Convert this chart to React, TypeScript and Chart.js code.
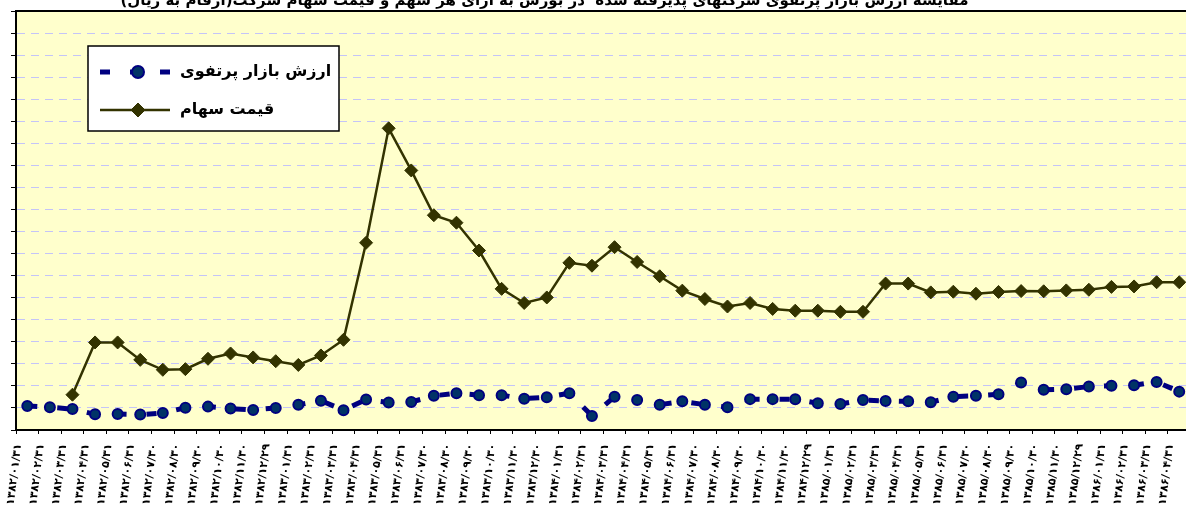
import React, { useEffect, useRef } from 'react';
import { Chart, registerables } from 'chart.js';

Chart.register(...registerables);

const TITLE = 'مقایسه ارزش بازار پرتفوی شرکتهای پذیرفته شده  در بورس به ازای هر سهم و قیمت سهام شرکت(ارقام به ریال)';
const SERIES_PORTFOLIO = 'ارزش بازار پرتفوی';
const SERIES_PRICE = 'قیمت سهام';

const dateLabels = [
  '۱۳۸۲/۰۱/۳۱', '۱۳۸۲/۰۲/۳۱', '۱۳۸۲/۰۳/۳۱', '۱۳۸۲/۰۴/۳۱', '۱۳۸۲/۰۵/۳۱', '۱۳۸۲/۰۶/۳۱',
  '۱۳۸۲/۰۷/۳۰', '۱۳۸۲/۰۸/۳۰', '۱۳۸۲/۰۹/۳۰', '۱۳۸۲/۱۰/۳۰', '۱۳۸۲/۱۱/۳۰', '۱۳۸۲/۱۲/۲۹',
  '۱۳۸۳/۰۱/۳۱', '۱۳۸۳/۰۲/۳۱', '۱۳۸۳/۰۳/۳۱', '۱۳۸۳/۰۴/۳۱', '۱۳۸۳/۰۵/۳۱', '۱۳۸۳/۰۶/۳۱',
  '۱۳۸۳/۰۷/۳۰', '۱۳۸۳/۰۸/۳۰', '۱۳۸۳/۰۹/۳۰', '۱۳۸۳/۱۰/۳۰', '۱۳۸۳/۱۱/۳۰', '۱۳۸۳/۱۲/۳۰',
  '۱۳۸۴/۰۱/۳۱', '۱۳۸۴/۰۲/۳۱', '۱۳۸۴/۰۳/۳۱', '۱۳۸۴/۰۴/۳۱', '۱۳۸۴/۰۵/۳۱', '۱۳۸۴/۰۶/۳۱',
  '۱۳۸۴/۰۷/۳۰', '۱۳۸۴/۰۸/۳۰', '۱۳۸۴/۰۹/۳۰', '۱۳۸۴/۱۰/۳۰', '۱۳۸۴/۱۱/۳۰', '۱۳۸۴/۱۲/۲۹',
  '۱۳۸۵/۰۱/۳۱', '۱۳۸۵/۰۲/۳۱', '۱۳۸۵/۰۳/۳۱', '۱۳۸۵/۰۴/۳۱', '۱۳۸۵/۰۵/۳۱', '۱۳۸۵/۰۶/۳۱',
  '۱۳۸۵/۰۷/۳۰', '۱۳۸۵/۰۸/۳۰', '۱۳۸۵/۰۹/۳۰', '۱۳۸۵/۱۰/۳۰', '۱۳۸۵/۱۱/۳۰', '۱۳۸۵/۱۲/۲۹',
  '۱۳۸۶/۰۱/۳۱', '۱۳۸۶/۰۲/۳۱', '۱۳۸۶/۰۳/۳۱', '۱۳۸۶/۰۴/۳۱',
];

const portfolioValues = [
  1090, 1030, 950, 710, 730, 700, 770, 1010, 1060, 970, 910, 1000,
  1140, 1330, 900, 1380, 1250, 1270, 1550, 1670, 1580, 1580, 1420, 1490,
  1670, 640, 1510, 1360, 1150, 1300, 1150, 1030, 1400, 1400, 1390, 1210,
  1180, 1360, 1320, 1300, 1260, 1510, 1550, 1620, 2150, 1820, 1850, 1970,
  2010, 2030, 2180, 1740,
];

const priceValues = [
  null, null, 1600, 3970, 3970, 3180, 2730, 2760, 3230, 3470, 3290, 3120,
  2950, 3380, 4090, 8490, 13680, 11770, 9740, 9400, 8140, 6400, 5760, 6010,
  7580, 7450, 8290, 7620, 6970, 6320, 5940, 5600, 5760, 5490, 5410, 5410,
  5360, 5360, 6640, 6640, 6240, 6270, 6180, 6260, 6300, 6290, 6330, 6360,
  6490, 6510, 6700, 6700,
];

const Y_MIN = 0;
const Y_MAX = 19000;
const Y_STEP = 1000;

const FONT = '"DejaVu Sans", sans-serif';

const plotBackground = {
  id: 'plotBackground',
  beforeDraw(chart: any) {
    const { ctx, chartArea } = chart;
    ctx.save();
    ctx.fillStyle = '#FFFFCC';
    ctx.fillRect(chartArea.left, chartArea.top, chartArea.right - chartArea.left, chartArea.bottom - chartArea.top);
    ctx.restore();
  },
  afterDraw(chart: any) {
    const { ctx, chartArea } = chart;
    ctx.save();
    ctx.strokeStyle = '#000';
    ctx.lineWidth = 2;
    ctx.beginPath();
    ctx.moveTo(chartArea.left, chartArea.top);
    ctx.lineTo(chartArea.right, chartArea.top);
    ctx.stroke();
    ctx.restore();
  },
};

const boxLegend = {
  id: 'boxLegend',
  afterDraw(chart: any) {
    const { ctx, chartArea } = chart;
    const bx = chartArea.left + 72;
    const by = chartArea.top + 35;
    const bw = 251;
    const bh = 85;
    ctx.save();
    ctx.fillStyle = '#ffffff';
    ctx.fillRect(bx, by, bw, bh);
    ctx.strokeStyle = '#000';
    ctx.lineWidth = 1.5;
    ctx.strokeRect(bx, by, bw, bh);
    chart.data.datasets.forEach((ds: any, i: number) => {
      const y = by + (i === 0 ? 26 : 64);
      const x0 = bx + 12;
      const x1 = bx + 82;
      const xm = bx + 50;
      ctx.save();
      ctx.lineWidth = ds.borderWidth;
      ctx.strokeStyle = ds.borderColor;
      ctx.setLineDash(ds.borderDash || []);
      ctx.beginPath();
      ctx.moveTo(x0, y);
      ctx.lineTo(x1, y);
      ctx.stroke();
      ctx.setLineDash([]);
      ctx.fillStyle = ds.pointBackgroundColor;
      ctx.strokeStyle = ds.pointBorderColor;
      ctx.lineWidth = ds.pointBorderWidth;
      ctx.beginPath();
      if (ds.pointStyle === 'rectRot') {
        const r = 7;
        ctx.moveTo(xm, y - r);
        ctx.lineTo(xm + r, y);
        ctx.lineTo(xm, y + r);
        ctx.lineTo(xm - r, y);
        ctx.closePath();
      } else {
        ctx.arc(xm, y, 6, 0, Math.PI * 2);
      }
      ctx.fill();
      ctx.stroke();
      ctx.restore();
      ctx.fillStyle = '#000';
      ctx.font = 'bold 16px ' + FONT;
      ctx.textAlign = 'left';
      ctx.textBaseline = 'middle';
      ctx.fillText(ds.label, bx + 92, y);
    });
    ctx.restore();
  },
};

export default function App() {
  const canvasRef = useRef<HTMLCanvasElement>(null);

  useEffect(() => {
    const canvas = canvasRef.current;
    if (!canvas) return;
    const chart = new Chart(canvas, {
      type: 'line',
      data: {
        labels: dateLabels,
        datasets: [
          {
            label: SERIES_PORTFOLIO,
            data: portfolioValues,
            borderColor: '#000080',
            borderWidth: 5,
            borderDash: [10, 20],
            pointStyle: 'circle',
            pointRadius: 5,
            pointBackgroundColor: '#003366',
            pointBorderColor: '#000080',
            pointBorderWidth: 2,
            tension: 0,
            fill: false,
          },
          {
            label: SERIES_PRICE,
            data: priceValues,
            borderColor: '#333300',
            borderWidth: 2.5,
            pointStyle: 'rectRot',
            pointRadius: 6.5,
            pointBackgroundColor: '#333300',
            pointBorderColor: '#333300',
            pointBorderWidth: 1,
            tension: 0,
            fill: false,
          },
        ],
      },
      options: {
        responsive: false,
        animation: false,
        layout: { padding: 0 },
        plugins: {
          legend: { display: false },
          tooltip: { enabled: false },
          title: {
            display: true,
            text: TITLE,
            color: '#000',
            font: { family: FONT, size: 15, weight: 'bold', lineHeight: 1.2 },
            padding: { top: 7, bottom: 1 },
          },
        },
        scales: {
          x: {
            type: 'category',
            offset: true,
            grid: {
              display: true,
              drawOnChartArea: false,
              drawTicks: true,
              tickLength: 4,
              tickColor: '#000',
              tickWidth: 1,
              offset: true,
            },
            border: { display: true, color: '#000', width: 2 },
            ticks: {
              autoSkip: false,
              minRotation: 83,
              maxRotation: 83,
              labelOffset: -9,
              padding: 9,
              color: '#000',
              font: { family: FONT, size: 11, weight: 'bold' },
            },
            afterFit: (s: any) => {
              s.height = 100;
              s.paddingLeft = 0;
              s.paddingRight = 0;
            },
          },
          y: {
            min: Y_MIN,
            max: Y_MAX,
            ticks: { stepSize: Y_STEP, display: false },
            grid: {
              color: '#c4c4f8',
              lineWidth: 1,
              drawTicks: true,
              tickLength: 5,
              tickColor: '#000',
              tickWidth: 1,
            },
            border: { display: true, color: '#000', width: 2, dash: [8, 6] },
            afterFit: (s: any) => {
              s.width = 125;
              s.paddingTop = 0;
              s.paddingBottom = 0;
            },
          },
        },
      },
      plugins: [plotBackground, boxLegend],
    } as any);
    return () => chart.destroy();
  }, []);

  return (
    <div
      style={{
        position: 'fixed',
        left: 0,
        top: 0,
        width: 1186,
        height: 528,
        overflow: 'hidden',
        background: '#ffffff',
      }}
    >
      <canvas
        ref={canvasRef}
        width={1307}
        height={545}
        dir="rtl"
        style={{ position: 'absolute', left: -109, top: -15, width: 1307, height: 545 }}
      />
    </div>
  );
}
